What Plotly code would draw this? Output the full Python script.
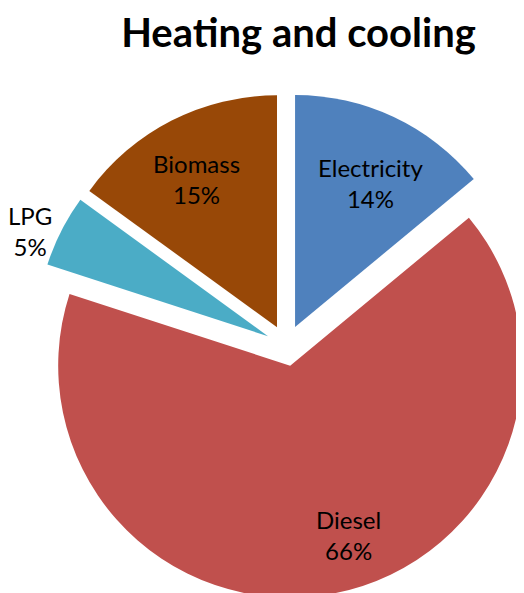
import plotly.graph_objects as go

labels = ["Electricity", "Diesel", "LPG", "Biomass"]
values = [14, 66, 5, 15]
colors = ["#4F81BD", "#C0504D", "#4BACC6", "#984807"]
pulls = [0.0884, 0.0884, 0.0884, 0.0884]

# label block centres (figure pixels) for each slice's data label
label_px = [(362, 175), (340, 527), (22, 223), (188, 171)]

W, H = 540, 600
total = sum(values)

fig = go.Figure(
    go.Pie(
        labels=labels,
        values=values,
        sort=False,
        direction="clockwise",
        rotation=0,
        pull=pulls,
        marker=dict(colors=colors, line=dict(width=0)),
        textinfo="none",
        textposition="none",
        domain=dict(x=[0.0478, 0.983], y=[0.0167, 0.8583]),
        automargin=False,
        showlegend=False,
        hoverinfo="label+percent",
    )
)

for lab, val, (px, py) in zip(labels, values, label_px):
    fig.add_annotation(
        text=f"{lab}<br>{val / total:.0%}",
        x=px / W,
        y=1 - py / H,
        xref="paper",
        yref="paper",
        xanchor="center",
        yanchor="middle",
        align="center",
        showarrow=False,
        font=dict(family="Lato", size=24, color="black"),
    )

fig.update_layout(
    width=W,
    height=H,
    margin=dict(l=0, r=0, t=0, b=0, autoexpand=False),
    paper_bgcolor="white",
    plot_bgcolor="white",
    title=dict(
        text="<b>Heating and cooling</b>",
        font=dict(family="Lato", size=40, color="black"),
        x=290.5 / W,
        xanchor="center",
        y=1 - 24.5 / H,
        yanchor="middle",
    ),
)

fig.write_html("out.html")
